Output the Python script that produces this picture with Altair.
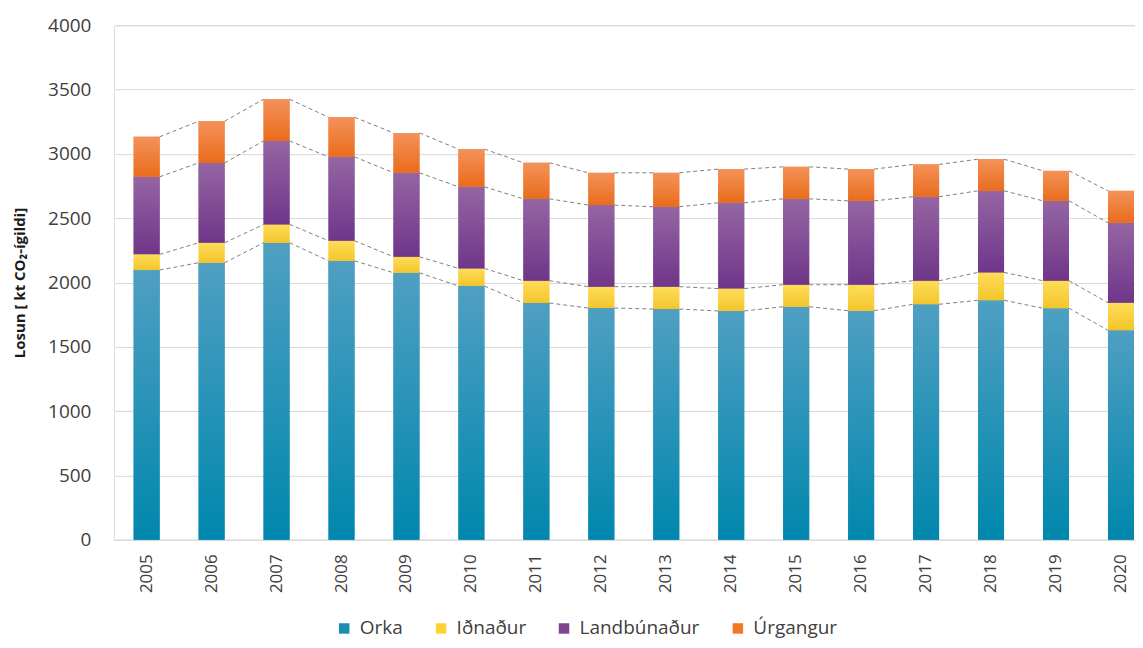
import altair as alt
import pandas as pd

years = [str(y) for y in range(2005, 2021)]
series = ["Orka", "Iðnaður", "Landbúnaður", "Úrgangur"]
orka = [2097, 2154, 2309, 2169, 2076, 1973, 1841, 1802, 1794, 1779, 1812, 1781, 1831, 1862, 1800, 1629]
idnadur = [122, 155, 143, 156, 124, 137, 173, 166, 174, 174, 171, 202, 183, 217, 214, 214]
landbunadur = [603, 621, 649, 652, 653, 634, 637, 634, 621, 667, 668, 652, 653, 634, 621, 622]
urgangur = [311, 324, 324, 308, 310, 293, 280, 251, 264, 262, 249, 247, 251, 246, 233, 248]

solid = ["#1a8db5", "#fcd436", "#7f4590", "#f07828"]
grad_top = ["#4f9fc2", "#fedd58", "#9565a3", "#f4925a"]
grad_bot = ["#0087ad", "#f3c52c", "#6f3689", "#e96c1b"]

values = [orka, idnadur, landbunadur, urgangur]
rows = []
for i, y in enumerate(years):
    cum = 0
    for s, vals in zip(series, values):
        rows.append({"year": y, "series": s, "start": cum, "end": cum + vals[i]})
        cum += vals[i]
df = pd.DataFrame(rows)

line_rows = []
for k in range(4):
    tops = [sum(v[i] for v in values[: k + 1]) for i in range(len(years))]
    for i in range(len(years) - 1):
        line_rows.append({"b": k, "year": years[i], "next": years[i + 1], "v": tops[i], "v2": tops[i + 1]})
lines = pd.DataFrame(line_rows)

xscale = alt.Scale(domain=years, paddingInner=0.6, paddingOuter=0.16, align=0.95)
yscale = alt.Scale(domain=[0, 4000], nice=False)

xaxis = alt.Axis(title=None, labelAngle=270, labelPadding=14, ticks=False, domainColor="#d9d9d9",
                 labelFontSize=17, labelColor="#404040", labelFont="Open Sans")
yaxis = alt.Axis(title="Losun [ kt CO₂-ígildi]", values=list(range(0, 4001, 500)), format="d",
                 domain=False, ticks=False,
                 gridColor="#d9d9d9", labelPadding=23, titlePadding=20, titleFontSize=15,
                 titleFontWeight="bold", titleColor="#1a1a1a", labelFontSize=19, labelColor="#404040",
                 labelFont="Open Sans", titleFont="Open Sans")

base = alt.Chart(df).mark_bar().encode(
    x=alt.X("year:O", scale=xscale, axis=xaxis),
    y=alt.Y("start:Q", scale=yscale, axis=yaxis),
    y2="end:Q",
    color=alt.Color("series:N", scale=alt.Scale(domain=series, range=solid),
                    legend=alt.Legend(title=None, orient="none", direction="horizontal",
                                      legendX=221, legendY=594, symbolType="square", symbolSize=110,
                                      symbolStrokeWidth=0, labelFontSize=19, labelColor="#404040",
                                      labelFont="Open Sans", columnPadding=28, labelOffset=6)),
)

layers = [base]
for s, t, b in zip(series, grad_top, grad_bot):
    g = alt.LinearGradient(gradient="linear", x1=0, x2=0, y1=0, y2=1,
                           stops=[alt.GradientStop(offset=0, color=t), alt.GradientStop(offset=1, color=b)])
    layers.append(
        alt.Chart(df).transform_filter(alt.datum.series == s).mark_bar(fill=g).encode(
            x=alt.X("year:O", scale=xscale),
            y=alt.Y("start:Q", scale=yscale),
            y2="end:Q",
        )
    )

rules = alt.Chart(lines).mark_rule(strokeDash=[4, 3], color="#808080", strokeWidth=1,
                                   xOffset=13, x2Offset=-13).encode(
    x=alt.X("year:O", scale=xscale),
    x2="next:O",
    y=alt.Y("v:Q", scale=yscale),
    y2="v2:Q",
)
layers.append(rules)

chart = alt.layer(*layers).properties(
    width=1022, height=515,
    padding={"left": 4, "top": 8, "right": 0, "bottom": 4},
).configure_view(stroke=None).configure(font="Open Sans")

chart.save("out.html", embed_options={"renderer": "svg", "actions": False})
